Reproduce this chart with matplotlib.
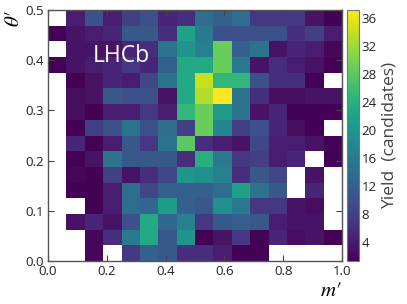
import numpy as np
import matplotlib
matplotlib.use("Agg")
import matplotlib.pyplot as plt

nan = np.nan
# bin edges
m_edges = np.linspace(0.0, 1.0, 17)
theta_edges = np.linspace(0.0, 0.5, 17)

# yields, rows listed from top (theta' ~ 0.5) to bottom (theta' ~ 0.0)
row_00 = [nan, 4, 10, 4, 8, 10, 5, 6, 14, 12, 14, 7, 7, 7, 3, 1.5]
row_01 = [1.5, 3, 4, 5, 11, 11, 6, 22, 16, 10, 10, 10, 10, 6, 8, 4]
row_02 = [nan, 3, 3, 3, 5, 6, 15, 20, 17, 29, 12, 15, 3, 5, 4, 2]
row_03 = [1.5, 3, 4, 5, 7, 5, 12, 23, 23, 29, 16, 3, 6, 4, 3, 1.5]
row_04 = [nan, 1.5, 3, 5, 4, 9, 15, 23, 34, 25, 25, 10, 6, 6, 1.5, nan]
row_05 = [nan, 2.5, 3, 11, 10, 10, 3, 23, 33, 37, 15, 6, 2.5, 2.5, 3, 3]
row_06 = [nan, 2.5, 1.5, 4, 4, 7, 4, 25, 29, 21, 15, 3, 5, 1.5, 1.5, 1.5]
row_07 = [nan, 1.5, 8, 10, 15, 10, 14, 8, 29, 18, 8, 10, 5, 2.5, 1.5, nan]
row_08 = [nan, 5, 1.5, 4, 11, 7, 15, 28, 6, 4, 3, 9, 4, 4, 3, 1.5]
row_09 = [nan, 1.5, 3, 15, 11, 11, 11, 6, 24, 16, 7, 8, 4, 5, nan, 1.5]
row_10 = [nan, 2, 1.5, 8, 3, 6, 9, 20, 19, 17, 6, 11, 9, nan, 3, nan]
row_11 = [nan, 1.5, 1.5, 4, 14, 9, 12, 12, 12, 14, 22, 15, 11, nan, 5, nan]
row_12 = [nan, nan, 1.5, 4, 14, 13, 21, 12, 11, 19, 16, 7, 7, 3, 2.5, nan]
row_13 = [nan, 3, 5, 3, 10, 23, 13, 17, 7, 11, 12, 11, 4, 3, 3, nan]
row_14 = [nan, nan, 2, 6, 16, 23, 11, 20, 1.5, 3, 7, 1.5, 5, 2.5, 3, 1.5]
row_15 = [nan, nan, 2, nan, 7, 12, 11, 6, 6, 4, 1.5, 1.5, nan, nan, nan, nan]

rows_top_to_bottom = [row_00, row_01, row_02, row_03, row_04, row_05, row_06, row_07,
                      row_08, row_09, row_10, row_11, row_12, row_13, row_14, row_15]

x_ticks = [0.0, 0.2, 0.4, 0.6, 0.8, 1.0]
y_ticks = [0.0, 0.1, 0.2, 0.3, 0.4, 0.5]
cbar_ticks = [4, 8, 12, 16, 20, 24, 28, 32, 36]

plt.rcParams['font.family'] = ['Open Sans', 'DejaVu Sans']
plt.rcParams['mathtext.fontset'] = 'stix'

Z = np.array(rows_top_to_bottom[::-1], dtype=float)
Z = np.ma.masked_invalid(Z)

fig = plt.figure(figsize=(4.07, 3.04), dpi=100)
ax = fig.add_axes([48/407, 1 - 261/304, 294/407, 251/304])
cax = fig.add_axes([347/407, 1 - 261/304, 12/407, 251/304])

mesh = ax.pcolormesh(m_edges, theta_edges, Z, cmap='viridis', vmin=1.3, vmax=37.2)
ax.set_xlim(0, 1)
ax.set_ylim(0, 0.5)
ax.set_xticks(x_ticks)
ax.set_yticks(y_ticks)
ax.set_xticklabels([f"{v:.1f}" for v in x_ticks])
ax.set_yticklabels([f"{v:.1f}" for v in y_ticks])
ax.tick_params(direction='in', top=True, right=True, length=4, width=0.8,
               color='#444444', labelsize=9.5, labelcolor='#222222', pad=3)
for s in ax.spines.values():
    s.set_color('#555555')
    s.set_linewidth(1.0)
ax.set_xlabel("$m\\prime$", fontsize=15, loc='right', labelpad=1)
ax.set_ylabel(r"$\theta\prime$", fontsize=15, loc='top', labelpad=1)

ax.text(0.153, 0.815, "LHCb", transform=ax.transAxes, color='white',
        fontsize=16.5, ha='left', va='center')

cb = fig.colorbar(mesh, cax=cax, ticks=cbar_ticks)
cb.outline.set_edgecolor('#777777')
cb.ax.tick_params(length=0, labelsize=9.5, labelcolor='#222222', pad=2)
cb.set_label("Yield  (candidates)", fontsize=12.5, color='#444444', labelpad=3)

fig.savefig("out.png", dpi=100)
